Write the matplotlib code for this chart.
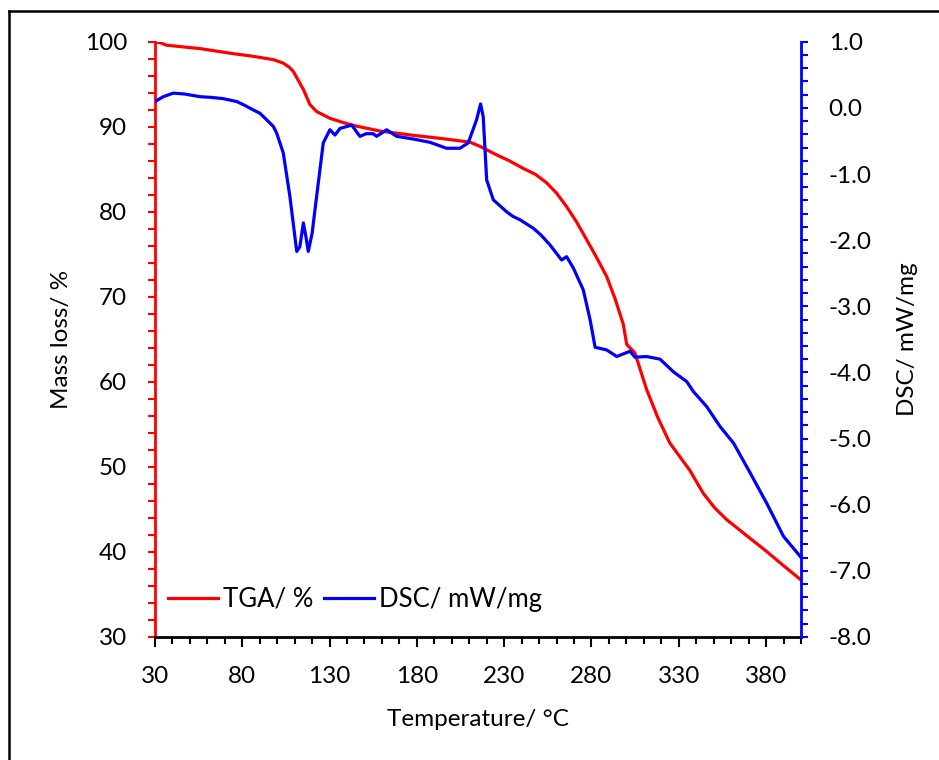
import matplotlib.pyplot as plt
from matplotlib.ticker import MultipleLocator, FormatStrFormatter
from matplotlib.lines import Line2D

plt.rcParams['font.family'] = ['Lato', 'DejaVu Sans']
plt.rcParams['axes.unicode_minus'] = False

# TGA curve (left axis)
tga_temp = [30, 32.9, 36.7, 46.2, 55.8, 65.3, 75, 84.4, 92, 97.8, 103.5, 107, 109.3, 112,
            115, 118.8, 122.6, 126.4, 130.2, 137.8, 145, 158.9, 177.9, 195, 210.4, 216.2,
            225.7, 233, 241, 248, 254.4, 260, 265.8, 271.5, 277.3, 283, 288.7, 293.5, 298.2,
            300.2, 304.9, 311.6, 318, 324.9, 336.3, 344, 350.5, 357.4, 370.8, 380, 389.9, 400]
tga_mass = [100.0, 99.9, 99.6, 99.4, 99.2, 98.9, 98.6, 98.35, 98.1, 97.9, 97.5, 97.0, 96.5, 95.5,
            94.4, 92.6, 91.8, 91.4, 91.0, 90.5, 90.1, 89.5, 89.0, 88.6, 88.2, 87.7,
            86.7, 86.0, 85.1, 84.4, 83.4, 82.2, 80.6, 78.8, 76.7, 74.6, 72.4, 69.8, 66.8,
            64.4, 63.4, 59.1, 55.8, 52.8, 49.6, 46.9, 45.2, 43.8, 41.6, 40.1, 38.4, 36.7]

# DSC curve (right axis)
dsc_temp = [30, 34.8, 40.5, 47, 55.8, 62, 69.1, 76.8, 80.6, 86.3, 90.1, 94, 97.8, 99.7, 103.5,
            107.3, 111.2, 113, 115, 116.5, 117.8, 120, 122.6, 126.4, 130.2, 133.1, 136, 142.7,
            147.4, 151, 155, 157, 162.7, 168.4, 177.9, 187.5, 197, 204.7, 209.4, 214.2, 216.5,
            218, 220, 223.8, 231.4, 235, 239, 246.7, 251, 256.2, 262.9, 265.8, 269.6, 275.3,
            279.2, 282.1, 288.7, 294.5, 302.1, 304.9, 311.6, 319.3, 326.9, 334.6, 338.4,
            346.1, 353.7, 361.4, 370.9, 380.4, 390, 399.8]
dsc_val = [0.097, 0.17, 0.224, 0.21, 0.17, 0.16, 0.14, 0.097, 0.05, -0.03, -0.08, -0.18, -0.28,
           -0.38, -0.68, -1.34, -2.17, -2.10, -1.74, -1.95, -2.17, -1.9, -1.34, -0.53, -0.33,
           -0.41, -0.31, -0.26, -0.43, -0.39, -0.39, -0.43, -0.33, -0.43, -0.47, -0.52, -0.61,
           -0.61, -0.53, -0.18, 0.06, -0.13, -1.09, -1.39, -1.57, -1.64, -1.69, -1.82, -1.92,
           -2.07, -2.30, -2.25, -2.42, -2.75, -3.2, -3.62, -3.66, -3.76, -3.68, -3.77, -3.76,
           -3.80, -3.99, -4.14, -4.29, -4.52, -4.82, -5.07, -5.52, -5.98, -6.48, -6.79]

x_ticks = [30, 80, 130, 180, 230, 280, 330, 380]

fig = plt.figure(figsize=(9.39, 7.6), dpi=100)
ax = fig.add_axes([0.165, 0.162, 0.688, 0.783])
ax2 = ax.twinx()

ax.plot(tga_temp, tga_mass, color='#ff0000', lw=2.3)
ax2.plot(dsc_temp, dsc_val, color='#0000ff', lw=2.3)

ax.set_xlim(30, 400)
ax.set_ylim(30, 100)
ax2.set_ylim(-8, 1)

ax.set_xticks(x_ticks)
ax.xaxis.set_minor_locator(MultipleLocator(10))
ax.yaxis.set_major_locator(MultipleLocator(10))
ax.yaxis.set_minor_locator(MultipleLocator(2))
ax2.yaxis.set_major_locator(MultipleLocator(1))
ax2.yaxis.set_minor_locator(MultipleLocator(0.2))
ax2.yaxis.set_major_formatter(FormatStrFormatter('%.1f'))

# spines
ax.spines['top'].set_visible(False)
ax.spines['right'].set_visible(False)
ax.spines['left'].set_color('#ff0000')
ax.spines['left'].set_linewidth(2)
ax.spines['bottom'].set_linewidth(2)
ax2.spines['top'].set_visible(False)
ax2.spines['left'].set_visible(False)
ax2.spines['bottom'].set_visible(False)
ax2.spines['right'].set_color('#0000ff')
ax2.spines['right'].set_linewidth(2)

fs = 17.5
ax.tick_params(axis='x', which='major', length=7, width=1.5, pad=14, labelsize=fs, colors='black')
ax.tick_params(axis='x', which='minor', length=5, width=1.5)
ax.tick_params(axis='y', which='both', length=5, width=1.5, color='#ff0000')
ax.tick_params(axis='y', which='major', pad=15, labelsize=fs, labelcolor='black')
ax2.tick_params(axis='y', which='both', length=5, width=1.5, color='#0000ff')
ax2.tick_params(axis='y', which='major', pad=15, labelsize=fs, labelcolor='black')

ax.set_xlabel('Temperature/ °C', fontsize=fs, labelpad=16)
ax.set_ylabel('Mass loss/ %', fontsize=fs, labelpad=9)
ax2.set_ylabel('DSC/ mW/mg', fontsize=fs, labelpad=18)

handles = [Line2D([], [], color='#ff0000', lw=2.3), Line2D([], [], color='#0000ff', lw=2.3)]
ax2.legend(handles, ['TGA/ %', 'DSC/ mW/mg'], loc='center left', bbox_to_anchor=(0.008, 0.063),
           ncol=2, frameon=False, fontsize=18.5, handlelength=1.95, handletextpad=0.2,
           columnspacing=0.4, borderpad=0.3, borderaxespad=0)

# outer frame (left and top edges only)
fig.add_artist(Line2D([0.0096, 0.0096], [0, 0.9855], transform=fig.transFigure, color='black', lw=1.8))
fig.add_artist(Line2D([0.0096, 1.0], [0.9855, 0.9855], transform=fig.transFigure, color='black', lw=1.8))

fig.savefig('out.png', dpi=100)
